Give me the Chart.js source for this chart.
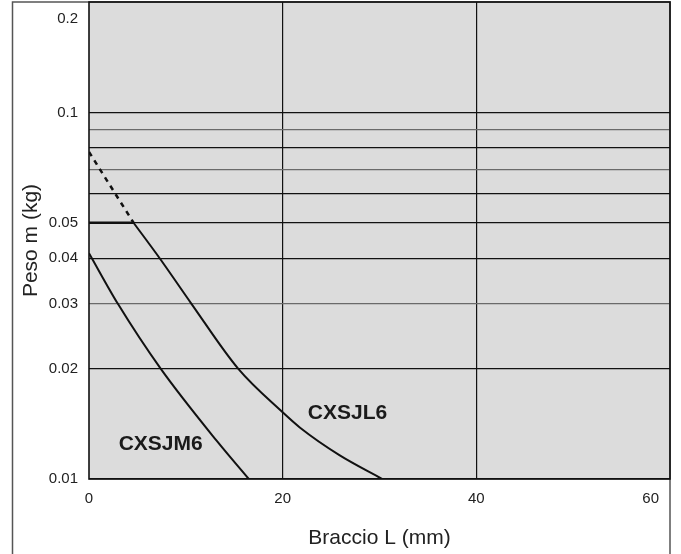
<!DOCTYPE html>
<html>
<head>
<meta charset="utf-8">
<script src="https://cdn.jsdelivr.net/npm/chart.js@4.4.1/dist/chart.umd.min.js"></script>
<style>
  html, body { margin: 0; padding: 0; background: #fff; }
  #wrap { width: 681px; height: 554px; }
</style>
</head>
<body>
<div id="wrap"><canvas id="chart"></canvas></div>
<script>
// arm length L (mm) against load m (kg), log scale on m
const jlDashedL = [0, 4.6];
const jlDashedM = [0.078, 0.05];
const jlFlatL = [0, 4.6];
const jlFlatM = [0.05, 0.05];
const jlCurveL = [4.6, 7.3, 10.6, 15.4, 20, 21.8, 25.9, 30.3];
const jlCurveM = [0.05, 0.04, 0.03, 0.02, 0.0152, 0.0138, 0.0116, 0.01];
const jmCurveL = [0, 3.0, 7.4, 13.2, 16.5];
const jmCurveM = [0.0413, 0.03, 0.02, 0.0127, 0.01];

const curveNames = ['CXSJL6', 'CXSJM6'];
const xTickLabels = ['0', '20', '40', '60'];
const yGridValues = [0.01, 0.02, 0.03, 0.04, 0.05, 0.06, 0.07, 0.08, 0.09, 0.1, 0.2];
const yTickLabels = ['0.01', '0.02', '0.03', '0.04', '0.05', '0.1', '0.2'];
const grayLines = [0.03, 0.07, 0.09];

const X_MAX = 60, Y_MIN = 0.01, Y_MAX = 0.2;

function pts(xs, ys) {
    return xs.map((x, i) => ({ x: x, y: ys[i] }));
}

const FONT = 'Liberation Sans, Arial, sans-serif';

const framePlugin = {
    id: 'frame',
    beforeDraw(chart) {
        const ctx = chart.ctx, a = chart.chartArea;
        ctx.save();
        ctx.fillStyle = '#dcdcdc';
        ctx.fillRect(a.left, a.top, a.right - a.left, a.bottom - a.top);
        ctx.strokeStyle = '#555';
        ctx.lineWidth = 1.5;
        ctx.beginPath();
        ctx.moveTo(12.5, 560);
        ctx.lineTo(12.5, 2);
        ctx.lineTo(a.right, 2);
        ctx.lineTo(a.right, 560);
        ctx.stroke();
        ctx.restore();
    },
    afterDatasetsDraw(chart) {
        const ctx = chart.ctx, a = chart.chartArea;
        const xs = chart.scales.x, ys = chart.scales.y;
        ctx.save();
        ctx.strokeStyle = '#111';
        ctx.lineWidth = 1.6;
        ctx.strokeRect(a.left, a.top, a.right - a.left, a.bottom - a.top);
        // curve names, anchored in data units
        const anchors = [[26.7, 0.0151], [7.4, 0.01246]];
        ctx.fillStyle = '#1a1a1a';
        ctx.font = 'bold 21px ' + FONT;
        ctx.textAlign = 'center';
        ctx.textBaseline = 'middle';
        curveNames.forEach((n, i) => {
            ctx.fillText(n, xs.getPixelForValue(anchors[i][0]), ys.getPixelForValue(anchors[i][1]));
        });
        ctx.restore();
    }
};

const lineStyle = {
    borderColor: '#111',
    borderWidth: 2,
    pointRadius: 0,
    fill: false
};

new Chart('chart', {
    type: 'line',
    data: {
        datasets: [
            Object.assign({ label: 'CXSJL6 dashed', data: pts(jlDashedL, jlDashedM), borderDash: [5, 5] }, lineStyle, { borderWidth: 2.5 }),
            Object.assign({ label: 'CXSJL6 flat', data: pts(jlFlatL, jlFlatM) }, lineStyle, { borderWidth: 2.5 }),
            Object.assign({ label: 'CXSJL6', data: pts(jlCurveL, jlCurveM), cubicInterpolationMode: 'monotone' }, lineStyle),
            Object.assign({ label: 'CXSJM6', data: pts(jmCurveL, jmCurveM), cubicInterpolationMode: 'monotone' }, lineStyle)
        ]
    },
    options: {
        responsive: true,
        maintainAspectRatio: false,
        animation: false,
        layout: { autoPadding: false, padding: { left: 12, right: 11, top: 2, bottom: 0 } },
        plugins: { legend: { display: false }, tooltip: { enabled: false } },
        scales: {
            x: {
                type: 'linear',
                min: 0,
                max: X_MAX,
                afterFit: (s) => {
                    s.height = 75;
                    s.paddingLeft = 0; s.paddingRight = 0;
                },
                afterBuildTicks: (s) => {
                    // last label sits a little inside the frame in the original
                    s.ticks = xTickLabels.map(t => ({ value: Number(t) >= X_MAX ? 58 : Number(t) }));
                },
                border: { display: false },
                grid: {
                    drawTicks: false,
                    lineWidth: 1.2,
                    color: (c) => (c.tick && (c.tick.value === 20 || c.tick.value === 40)) ? '#111' : 'rgba(0,0,0,0)'
                },
                ticks: {
                    padding: 11,
                    color: '#222',
                    font: { family: FONT, size: 15 },
                    callback: (v, i) => xTickLabels[i]
                },
                title: {
                    display: true,
                    text: 'Braccio L (mm)',
                    color: '#222',
                    font: { family: FONT, size: 21 },
                    padding: { top: 0, bottom: 3 }
                }
            },
            y: {
                type: 'logarithmic',
                min: Y_MIN,
                max: Y_MAX,
                afterFit: (s) => {
                    s.width = 77;
                    s.paddingTop = 0; s.paddingBottom = 0;
                },
                afterBuildTicks: (s) => {
                    // top label is printed below the frame edge in the original
                    s.ticks = yGridValues.map(v => ({ value: v >= Y_MAX ? 0.18 : v }));
                },
                border: { display: false },
                grid: {
                    drawTicks: false,
                    lineWidth: 1.2,
                    color: (c) => {
                        if (!c.tick || c.tick.value === 0.18) return 'rgba(0,0,0,0)';
                        return grayLines.includes(c.tick.value) ? '#6a6a6a' : '#111';
                    }
                },
                ticks: {
                    padding: 11,
                    color: '#222',
                    font: { family: FONT, size: 15 },
                    callback: (v, i) => {
                        const s = String(yGridValues[i]);
                        return yTickLabels.includes(s) ? s : '';
                    }
                },
                title: {
                    display: true,
                    text: 'Peso m (kg)',
                    color: '#222',
                    font: { family: FONT, size: 21 },
                    padding: { top: 7, bottom: 0 }
                }
            }
        }
    },
    plugins: [framePlugin]
});
</script>
</body>
</html>
